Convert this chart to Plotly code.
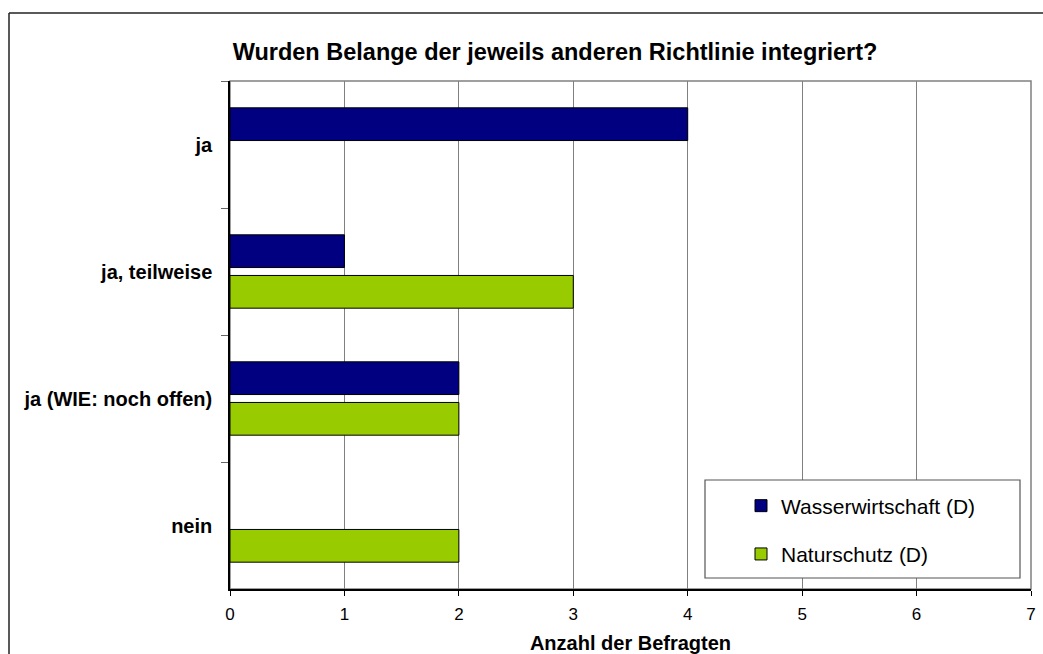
import plotly.graph_objects as go

categories = ["ja", "ja, teilweise", "ja (WIE: noch offen)", "nein"]
wasser = [4, 1, 2, 0]
natur = [0, 3, 2, 2]
series_names = ["Wasserwirtschaft (D)", "Naturschutz (D)"]
x_ticks = [0, 1, 2, 3, 4, 5, 6, 7]

W, H = 1043, 654
L, R, T, B = 230, 1031, 81, 589

def px(x):
    return (x - L) / (R - L)

def py(y):
    return (B - y) / (B - T)

def nz(vals):
    # zero-length bars are not drawn (no outline stub at the axis)
    return [v if v != 0 else None for v in vals]

FONT = "Arial, Liberation Sans, sans-serif"

fig = go.Figure()
fig.add_trace(go.Bar(
    y=categories, x=nz(wasser), name=series_names[0], orientation="h",
    marker=dict(color="#000080", line=dict(color="black", width=1)),
    legendgroup="a",
))
fig.add_trace(go.Bar(
    y=categories, x=nz(natur), name=series_names[1], orientation="h",
    marker=dict(color="#99CC00", line=dict(color="black", width=1)),
    legendgroup="b",
))

shapes = [
    dict(type="rect", xref="paper", yref="paper", x0=0, x1=1, y0=0, y1=1,
         line=dict(color="#808080", width=1.5), layer="below"),
    dict(type="line", xref="paper", yref="paper", x0=px(9), x1=px(9), y0=py(13), y1=py(700),
         line=dict(color="#222222", width=1.5)),
    dict(type="line", xref="paper", yref="paper", x0=px(9), x1=px(1100), y0=py(13), y1=py(13),
         line=dict(color="#222222", width=1.5)),
    dict(type="rect", xref="paper", yref="paper", x0=px(705), x1=px(1020), y0=py(480), y1=py(578),
         line=dict(color="#555555", width=1.2), fillcolor="white", layer="above"),
]

fig.update_layout(
    width=W, height=H,
    margin=dict(l=L, r=W - R, t=T, b=H - B, autoexpand=False),
    paper_bgcolor="white", plot_bgcolor="white",
    barmode="group", bargap=0.36, bargroupgap=0.195,
    font=dict(family=FONT, color="black"),
    title=dict(text="<b>Wurden Belange der jeweils anderen Richtlinie integriert?</b>",
               x=px(555), xref="paper", xanchor="center",
               y=1 - 52 / H, yanchor="middle", font=dict(size=23.5)),
    xaxis=dict(range=[0, 7], tickvals=x_ticks, ticks="outside", ticklen=5,
               tickcolor="black", showgrid=True, gridcolor="#808080", gridwidth=1,
               showline=True, linecolor="black", linewidth=1.5, zeroline=False,
               tickfont=dict(size=17), automargin=False, ticklabelstandoff=4,
               title=dict(text="<b>Anzahl der Befragten</b>", font=dict(size=20), standoff=14)),
    yaxis=dict(autorange="reversed", ticks="outside", ticklen=7, tickcolor="#666666",
               tickson="boundaries", showline=True, linecolor="black", linewidth=1.5,
               showgrid=False, tickfont=dict(size=20, weight="bold"),
               ticklabelstandoff=12, automargin=False),
    legend=dict(x=px(741), y=py(530), xanchor="left", yanchor="middle",
                bgcolor="rgba(0,0,0,0)", borderwidth=0,
                font=dict(size=21), tracegroupgap=18, traceorder="grouped"),
    shapes=shapes,
)

fig.write_html("out.html", config={"displayModeBar": False},
               post_script="document.body.style.margin='0';")
